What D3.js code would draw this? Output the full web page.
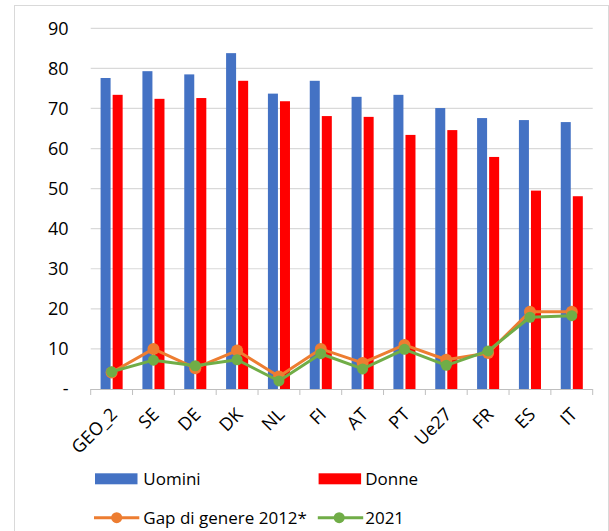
<!DOCTYPE html>
<html><head><meta charset="utf-8">
<script src="https://cdn.jsdelivr.net/npm/d3@7"></script>
<style>body{margin:0;background:#fff}svg{display:block}text{font-family:"Open Sans",sans-serif;fill:#000}</style>
</head><body><svg id="c" width="609" height="531"></svg>
<script>
const categories = ["GEO_2","SE","DE","DK","NL","FI","AT","PT","Ue27","FR","ES","IT"];
const uomini = [77.6,79.3,78.5,83.8,73.7,76.9,72.9,73.4,70.1,67.6,67.1,66.6];
const donne  = [73.4,72.4,72.6,76.9,71.8,68.1,67.9,63.4,64.6,57.9,49.5,48.1];
const gap2012 = [4.1,10.0,5.2,9.6,3.1,10.0,6.5,11.0,7.3,9.0,19.3,19.3];
const gap2021 = [4.3,7.2,5.8,7.3,2.0,8.8,5.0,9.9,5.9,9.5,17.9,18.3];
const yTicks = [0,10,20,30,40,50,60,70,80,90];
const yTickLabels = ["-","10","20","30","40","50","60","70","80","90"];
const seriesNames = ["Uomini","Donne","Gap di genere 2012*","2021"];

const svg = d3.select("#c");
const L = 90.7, R = 592.7, T = 28.3, B = 389;
const x = d3.scaleBand().domain(categories).range([L,R]).paddingInner(0).paddingOuter(0);
const y = d3.scaleLinear().domain([0,90]).range([B,T]);

// frame
svg.append("rect").attr("x",14.5).attr("y",5.5).attr("width",594).attr("height",540)
  .attr("fill","none").attr("stroke","#d9d9d9").attr("stroke-width",1);

// gridlines
svg.append("g").selectAll("line").data(yTicks.filter(d=>d>0)).join("line")
  .attr("x1",L).attr("x2",R).attr("y1",d=>y(d)).attr("y2",d=>y(d))
  .attr("stroke","#d9d9d9").attr("stroke-width",1.2);

// y labels
svg.append("g").selectAll("text").data(yTicks).join("text")
  .attr("x",68.5).attr("y",d=>y(d)).attr("dy","0.36em").attr("text-anchor","end")
  .attr("font-size",18).text((d,i)=>yTickLabels[i]);

// bars
const bw = x.bandwidth();
const inner = d3.scaleBand().domain([0,1]).range([0,bw]).paddingInner(0.17).paddingOuter(0.82);
const colors = ["#4472C4","#FF0000"];
[uomini,donne].forEach((arr,si)=>{
  svg.append("g").selectAll("rect").data(arr).join("rect")
    .attr("x",(d,i)=>x(categories[i])+inner(si))
    .attr("width",inner.bandwidth())
    .attr("y",d=>y(d)).attr("height",d=>B-y(d))
    .attr("fill",colors[si]);
});

// x axis
svg.append("line").attr("x1",L).attr("x2",R).attr("y1",B+0.5).attr("y2",B+0.5)
  .attr("stroke","#bfbfbf").attr("stroke-width",1);
svg.append("g").selectAll("line").data(d3.range(categories.length+1)).join("line")
  .attr("x1",i=>L+i*bw).attr("x2",i=>L+i*bw).attr("y1",B).attr("y2",B+6)
  .attr("stroke","#bfbfbf").attr("stroke-width",1);

// x labels
svg.append("g").selectAll("text").data(categories).join("text")
  .attr("text-anchor","end").attr("font-size",18)
  .attr("transform",d=>`translate(${x(d)+bw/2+2},${B+22}) rotate(-45)`)
  .attr("dy","0.36em").text(d=>d);

// lines
const lineColors = ["#ED7D31","#70AD47"];
[gap2012,gap2021].forEach((arr,si)=>{
  const line = d3.line().x((d,i)=>x(categories[i])+bw/2).y(d=>y(d));
  svg.append("path").datum(arr).attr("d",line).attr("fill","none")
    .attr("stroke",lineColors[si]).attr("stroke-width",3).attr("stroke-linejoin","round");
  svg.append("g").selectAll("circle").data(arr).join("circle")
    .attr("cx",(d,i)=>x(categories[i])+bw/2).attr("cy",d=>y(d))
    .attr("r",si===0?6:5.5).attr("fill",lineColors[si]);
});

// legend
const lg = svg.append("g");
const barLeg = [{x:95,tx:143.3,c:colors[0],n:seriesNames[0]},{x:318.6,tx:365.2,c:colors[1],n:seriesNames[1]}];
barLeg.forEach(l=>{
  lg.append("rect").attr("x",l.x).attr("y",473.3).attr("width",42.5).attr("height",11).attr("fill",l.c);
  lg.append("text").attr("x",l.tx).attr("y",485).attr("font-size",17).text(l.n);
});
const lineLeg = [{x1:94,x2:139.3,cx:116.7,tx:143.3,c:lineColors[0],n:seriesNames[2]},{x1:317.8,x2:363.2,cx:339.2,tx:365.2,c:lineColors[1],n:seriesNames[3]}];
lineLeg.forEach(l=>{
  lg.append("line").attr("x1",l.x1).attr("x2",l.x2).attr("y1",517.7).attr("y2",517.7)
    .attr("stroke",l.c).attr("stroke-width",3);
  lg.append("circle").attr("cx",l.cx).attr("cy",517.7).attr("r",5.5).attr("fill",l.c);
  lg.append("text").attr("x",l.tx).attr("y",523.8).attr("font-size",17).text(l.n);
});
</script></body></html>
